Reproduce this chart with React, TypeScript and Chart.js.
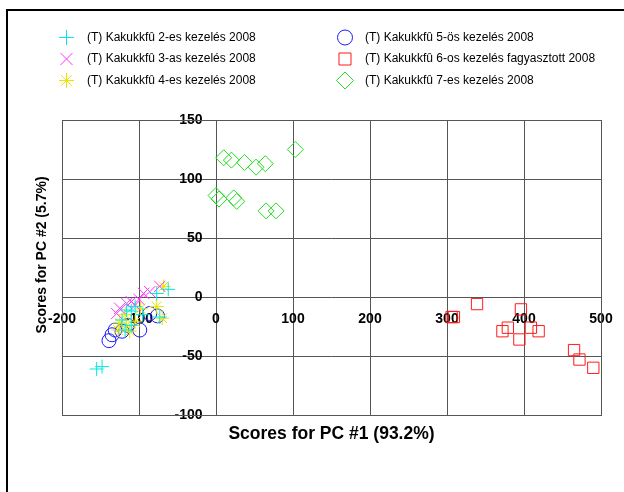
import React, { useEffect, useRef } from 'react';
import { Chart, registerables } from 'chart.js';

Chart.register(...registerables);

// ---- data ----
const xTickValues = [-200, -100, 0, 100, 200, 300, 400, 500];
const yTickValues = [-100, -50, 0, 50, 100, 150];

const seriesNames = [
  '(T) Kakukkfû 2-es kezelés 2008',
  '(T) Kakukkfû 3-as kezelés 2008',
  '(T) Kakukkfû 4-es kezelés 2008',
  '(T) Kakukkfû 5-ös kezelés 2008',
  '(T) Kakukkfû 6-os kezelés fagyasztott 2008',
  '(T) Kakukkfû 7-es kezelés 2008',
];

const pc1_2es = [-155, -148, -62, -77, -73, -116, -110, -122, -118, -110, -95, -105];
const pc2_2es = [-61, -59, 6.5, 3, -17, -11, -12, -19.5, -28, -24, -15, -8];

const pc1_3as = [-94, -86, -73, -110, -116, -129, -125, -105, -100];
const pc2_3as = [3, 4.5, 9, -4, -5.5, -14, -9.6, -7, -2];

const pc1_4es = [-68, -77, -70, -118, -116, -112, -125, -105, -127, -98];
const pc2_4es = [9, -8, -18, -15, -24, -29, -22, -21, -28, -10];

const pc1_5os = [-139, -135, -131, -122, -115, -99, -86, -76];
const pc2_5os = [-37, -32, -28, -29, -24, -28, -14, -16];

const pc1_6os = [306, 309, 339, 396, 379, 372, 394, 409, 419, 465, 472, 490];
const pc2_6os = [-17, -17, -6, -10.5, -26, -29, -36, -26, -29, -45, -53, -60];

const pc1_7es = [10, 20, 37, 52, 64, 103, 0, 4, 23, 27, 65, 78];
const pc2_7es = [118, 116, 114, 110, 113, 125, 86, 83, 84, 81, 73, 73];

const seriesX = [pc1_2es, pc1_3as, pc1_4es, pc1_5os, pc1_6os, pc1_7es];
const seriesY = [pc2_2es, pc2_3as, pc2_4es, pc2_5os, pc2_6os, pc2_7es];

// ---- styles ----
const colors = ['#00e8e8', '#ff33ff', '#e6e600', '#1a1aff', '#ff1a1a', '#22dd22'];
const styles = ['cross', 'crossRot', 'star', 'circle', 'rect', 'rectRot'];
const radii = [7.5, 8.5, 7.5, 7.5, 8.5, 8.5];
const FONT = '"Liberation Sans", Arial, sans-serif';

function drawMarker(ctx: CanvasRenderingContext2D, style: string, x: number, y: number, r: number) {
  ctx.beginPath();
  const d = r * Math.SQRT1_2;
  if (style === 'cross' || style === 'star') {
    ctx.moveTo(x, y - r); ctx.lineTo(x, y + r);
    ctx.moveTo(x - r, y); ctx.lineTo(x + r, y);
  }
  if (style === 'crossRot' || style === 'star') {
    ctx.moveTo(x - d, y - d); ctx.lineTo(x + d, y + d);
    ctx.moveTo(x - d, y + d); ctx.lineTo(x + d, y - d);
  }
  if (style === 'circle') ctx.arc(x, y, r, 0, Math.PI * 2);
  if (style === 'rect') ctx.rect(x - d, y - d, 2 * d, 2 * d);
  if (style === 'rectRot') {
    ctx.moveTo(x, y - r); ctx.lineTo(x + r, y); ctx.lineTo(x, y + r); ctx.lineTo(x - r, y); ctx.closePath();
  }
  ctx.stroke();
}

const decorPlugin = {
  id: 'decor',
  beforeDatasetsDraw(chart: any) {
    const { ctx, chartArea } = chart;
    ctx.save();
    ctx.strokeStyle = '#555';
    ctx.lineWidth = 1;
    ctx.strokeRect(chartArea.left + 0.5, chartArea.top + 0.5, chartArea.right - chartArea.left, chartArea.bottom - chartArea.top);
    ctx.restore();
  },
  afterDraw(chart: any) {
    const { ctx, chartArea } = chart;
    ctx.save();
    // outer frame (top and left)
    ctx.fillStyle = '#000';
    ctx.fillRect(6, 9, 618, 2);
    ctx.fillRect(6, 9, 2, 483);

    // legend
    ctx.font = `12px ${FONT}`;
    ctx.textBaseline = 'middle';
    ctx.textAlign = 'left';
    const rowsY = [37.5, 59, 80.5];
    seriesNames.forEach((name, i) => {
      const col = Math.floor(i / 3);
      const row = i % 3;
      const mx = col === 0 ? 66.5 : 345;
      const tx = col === 0 ? 87 : 365;
      const y = rowsY[row];
      ctx.strokeStyle = colors[i];
      ctx.lineWidth = 1;
      drawMarker(ctx, styles[i], mx, y, radii[i]);
      ctx.save();
      ctx.beginPath();
      ctx.rect(0, 0, 596, 492);
      ctx.clip();
      ctx.fillStyle = '#000';
      ctx.fillText(name, tx, y);
      ctx.restore();
    });

    // axis titles
    ctx.fillStyle = '#000';
    ctx.textAlign = 'center';
    ctx.textBaseline = 'middle';
    ctx.font = `bold 17.5px ${FONT}`;
    ctx.fillText('Scores for PC #1 (93.2%)', (chartArea.left + chartArea.right) / 2, 434);
    ctx.save();
    ctx.translate(42, 255);
    ctx.rotate(-Math.PI / 2);
    ctx.font = `bold 14px ${FONT}`;
    ctx.fillText('Scores for PC #2 (5.7%)', 0, 0);
    ctx.restore();
    ctx.restore();
  },
};

export default function App() {
  const ref = useRef<HTMLCanvasElement>(null);
  useEffect(() => {
    if (!ref.current) return;
    const datasets = seriesNames.map((name, i) => ({
      label: name,
      data: seriesX[i].map((x, j) => ({ x, y: seriesY[i][j] })),
      pointStyle: styles[i],
      pointRadius: radii[i] - 0.5,
      pointBorderWidth: 1,
      borderColor: colors[i],
      backgroundColor: 'rgba(0,0,0,0)',
      pointBackgroundColor: 'rgba(0,0,0,0)',
      showLine: false,
    }));
    const tickFont = { family: FONT, size: 14, weight: 'bold' as const };
    const chart = new Chart(ref.current, {
      type: 'scatter',
      data: { datasets },
      plugins: [decorPlugin],
      options: {
        animation: false,
        responsive: false,
        devicePixelRatio: 1,
        layout: { padding: { left: 62, top: 120, right: 23, bottom: 77 } },
        plugins: { legend: { display: false }, tooltip: { enabled: false } },
        scales: {
          x: {
            type: 'linear',
            min: -200,
            max: 500,
            position: { y: 0 } as any,
            afterBuildTicks: (s: any) => { s.ticks = xTickValues.map((v) => ({ value: v })); },
            grid: { color: '#555', lineWidth: 1, drawTicks: true, tickLength: 11, tickColor: 'rgba(0,0,0,0)' },
            border: { display: false },
            ticks: { autoSkip: false, maxRotation: 0, color: '#000', font: tickFont, padding: 3 },
          },
          y: {
            type: 'linear',
            min: -100,
            max: 150,
            // labels anchored a little left of the x = 0 line, as in the original
            position: { x: -17.5 } as any,
            afterBuildTicks: (s: any) => { s.ticks = yTickValues.map((v) => ({ value: v })); },
            grid: { color: '#555', lineWidth: 1, drawTicks: false, tickColor: 'rgba(0,0,0,0)' },
            border: { display: false },
            ticks: { autoSkip: false, color: '#000', font: tickFont, padding: 0 },
          },
        },
      },
    });
    return () => chart.destroy();
  }, []);
  return (
    <div style={{ position: 'absolute', left: 0, top: 0, width: 624, height: 492 }}>
      <canvas ref={ref} width={624} height={492} />
    </div>
  );
}
